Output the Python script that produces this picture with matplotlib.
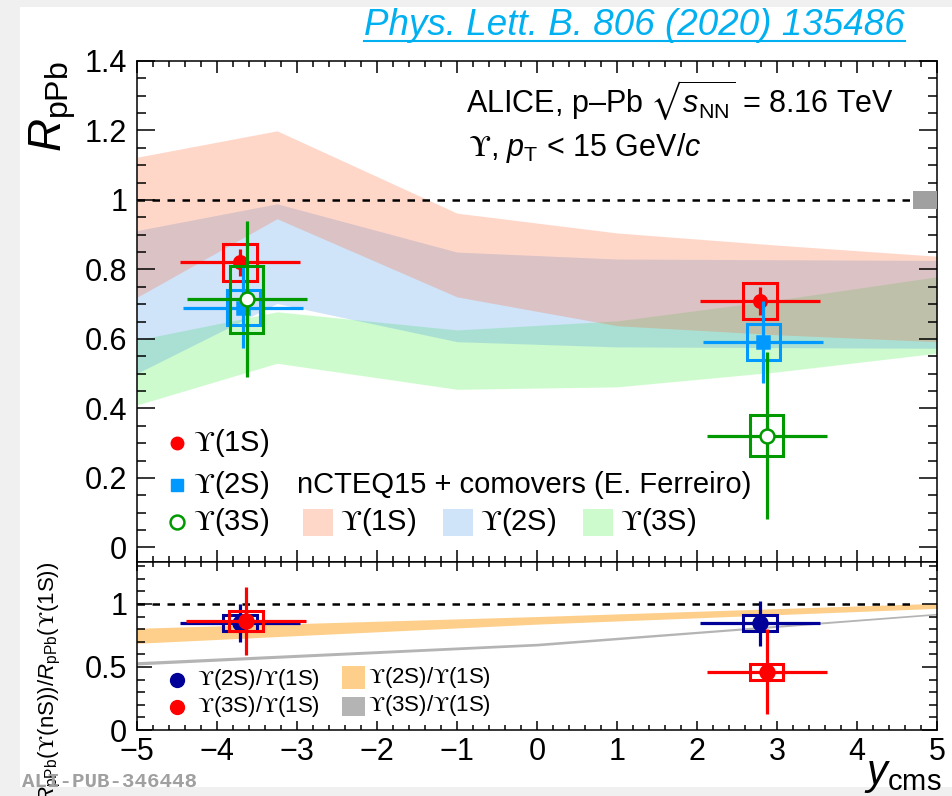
# Upsilon nuclear modification factors in p-Pb at 8.16 TeV, with double ratios

import matplotlib
matplotlib.use("Agg")
from matplotlib import pyplot as plt
from matplotlib.patches import Rectangle
from matplotlib.lines import Line2D
from matplotlib.ticker import MultipleLocator, FuncFormatter

plt.rcParams['font.family'] = ['Liberation Sans', 'DejaVu Sans']
plt.rcParams['mathtext.fontset'] = 'custom'
plt.rcParams['mathtext.rm'] = 'Liberation Sans'
plt.rcParams['mathtext.it'] = 'Liberation Sans:italic'
plt.rcParams['mathtext.bf'] = 'Liberation Sans:bold'
# hooked upsilon symbol is taken from STIX through \mathsf
plt.rcParams['mathtext.sf'] = 'STIXGeneral'
plt.rcParams['mathtext.fallback'] = 'stixsans'

# ---- measured R_pPb (backward, forward) ----
x_1s = [-3.71, 2.79]
r_1s = [0.82, 0.71]
stat_1s = [0.04, 0.04]
syst_1s = [0.054, 0.052]

x_2s = [-3.67, 2.83]
r_2s = [0.69, 0.59]
stat_2s = [0.117, 0.118]
syst_2s = [0.051, 0.052]

x_3s = [-3.63, 2.87]
r_3s = [0.714, 0.322]
stat_3s = [0.225, 0.24]
syst_3s = [0.096, 0.058]

bin_half = 0.75      # half width of the rapidity intervals
box_half = 0.21      # half width of the systematic boxes
global_unc = 0.026   # correlated uncertainty, drawn at unity

# ---- nCTEQ15 + comovers bands ----
x_th = [-5, -3.25, -1, 1, 3, 5]
th1_lo = [0.72, 0.946, 0.721, 0.638, 0.612, 0.592]
th1_hi = [1.123, 1.199, 0.962, 0.905, 0.87, 0.838]
th2_lo = [0.501, 0.702, 0.592, 0.577, 0.575, 0.573]
th2_hi = [0.912, 0.989, 0.850, 0.830, 0.828, 0.826]
th3_lo = [0.41, 0.530, 0.455, 0.462, 0.505, 0.559]
th3_hi = [0.597, 0.678, 0.626, 0.652, 0.712, 0.779]

# ---- double ratios ----
x_21 = [-3.71, 2.79]
d_21 = [0.847, 0.847]
stat_21 = [0.15, 0.18]
syst_21 = [0.062, 0.062]

x_31 = [-3.64, 2.87]
d_31 = [0.868, 0.463]
stat_31 = [0.27, 0.335]
syst_31 = [0.08, 0.064]

x_rat = [-5, 0, 5]
th21_lo = [0.688, 0.84, 0.965]
th21_hi = [0.807, 0.90, 1.005]
th31_lo = [0.516, 0.667, 0.913]
th31_hi = [0.542, 0.688, 0.926]

RED = '#ff0000'
AZURE = '#0099ff'
GREEN = '#009900'
NAVY = '#000099'
C1S = '#ff632b'
C2S = '#4393eb'
C3S = '#3bf33b'
ORANGE = '#fdcf8a'
GREY = '#b4b4b4'
UPS = r'$\mathsf{ϒ}$'


def fmt(v, pos):
    return f"{v:g}".replace('-', '\u2212')


def style_axes(a, ymaj, ymin, ylen, xlen):
    a.set_xlim(-5, 5)
    a.xaxis.set_major_locator(MultipleLocator(1))
    a.xaxis.set_minor_locator(MultipleLocator(0.2))
    a.yaxis.set_major_locator(MultipleLocator(ymaj))
    a.yaxis.set_minor_locator(MultipleLocator(ymin))
    a.xaxis.set_major_formatter(FuncFormatter(fmt))
    a.yaxis.set_major_formatter(FuncFormatter(fmt))
    a.tick_params(which='both', direction='in', top=True, right=True,
                  width=1.1, labelsize=22)
    a.tick_params(axis='y', which='major', length=ylen, pad=7)
    a.tick_params(axis='y', which='minor', length=ylen / 2)
    a.tick_params(axis='x', which='major', length=xlen, pad=5)
    a.tick_params(axis='x', which='minor', length=xlen / 2)
    for s in a.spines.values():
        s.set_linewidth(1.1)


def draw_points(a, x, y, stat, syst, color, marker, ms, mfc, z):
    for xi, yi, si in zip(x, y, syst):
        a.add_patch(Rectangle((xi - box_half, yi - si), 2 * box_half, 2 * si,
                              fill=False, ec=color, lw=2.2, zorder=z))
    a.errorbar(x, y, xerr=bin_half, yerr=stat, fmt=marker, color=color,
               ms=ms, mfc=mfc, mec=color, mew=1.8, elinewidth=2.3,
               capsize=0, zorder=z + 1)


fig = plt.figure(figsize=(9.53, 7.96), dpi=100, facecolor='#f0f0f0')
fig.patches.append(Rectangle((0.021, 0.0113), 0.979, 0.98, transform=fig.transFigure,
                             facecolor='white', edgecolor='none', zorder=-10))

ax = fig.add_axes([0.1438, 0.2940, 0.8395, 0.6294])
ax2 = fig.add_axes([0.1438, 0.0829, 0.8395, 0.2111])

# ---------------- upper panel ----------------
style_axes(ax, 0.2, 0.05, 13, 8.6)
ax.set_ylim(-0.042, 1.4)
ax.tick_params(labelbottom=False)

ax.fill_between(x_th, th3_lo, th3_hi, color=C3S, alpha=0.25, lw=0, zorder=1)
ax.fill_between(x_th, th2_lo, th2_hi, color=C2S, alpha=0.25, lw=0, zorder=1)
ax.fill_between(x_th, th1_lo, th1_hi, color=C1S, alpha=0.25, lw=0, zorder=1)

ax.plot([-5, 4.7], [1, 1], color='black', ls=(0, (3, 3)), lw=1.8, zorder=2)
ax.add_patch(Rectangle((4.7, 1 - global_unc), 0.3, 2 * global_unc,
                       facecolor='#a0a0a0', edgecolor='none', zorder=3))

draw_points(ax, x_1s, r_1s, stat_1s, syst_1s, RED, 'o', 9, RED, 4)
draw_points(ax, x_2s, r_2s, stat_2s, syst_2s, AZURE, 's', 8, AZURE, 6)
draw_points(ax, x_3s, r_3s, stat_3s, syst_3s, GREEN, 'o', 10, 'white', 8)

ax.text(-0.105, 1.0, r'$R_{\mathrm{pPb}}$', transform=ax.transAxes,
        rotation=90, ha='center', va='top', fontsize=33)

ax.text(0.411, 0.922, r'ALICE, p–Pb $\sqrt{s_{\mathrm{NN}}}$ = 8.16 TeV',
        transform=ax.transAxes, fontsize=22, va='center')
ax.text(0.414, 0.826, UPS + r', $p_{\mathrm{T}}$ < 15 GeV/$c$',
        transform=ax.transAxes, fontsize=22, va='center')

# data legend
leg_y = [0.2375, 0.1537, 0.0798]
ax.plot([0.05], [leg_y[0]], 'o', color=RED, ms=9, transform=ax.transAxes)
ax.plot([0.05], [leg_y[1]], 's', color=AZURE, ms=8, transform=ax.transAxes)
ax.plot([0.05], [leg_y[2]], 'o', mec=GREEN, mfc='white', mew=1.8, ms=10,
        transform=ax.transAxes)
for yy, lab in zip(leg_y, ['1S', '2S', '3S']):
    ax.text(0.07, yy, UPS + '(' + lab + ')', transform=ax.transAxes,
            fontsize=21, va='center')

# model legend
ax.text(0.2, leg_y[1], 'nCTEQ15 + comovers (E. Ferreiro)', transform=ax.transAxes,
        fontsize=21, va='center')
for x0, col, lab in zip([0.2075, 0.3825, 0.5575], [C1S, C2S, C3S], ['1S', '2S', '3S']):
    ax.add_patch(Rectangle((x0, 0.052), 0.0375, 0.054, transform=ax.transAxes,
                           facecolor=col, alpha=0.25, edgecolor='none'))
    ax.text(x0 + 0.0465, leg_y[2], UPS + '(' + lab + ')', transform=ax.transAxes,
            fontsize=21, va='center')

# ---------------- lower panel ----------------
style_axes(ax2, 0.5, 0.1, 11, 6.5)
ax2.set_ylim(0, 1.333)

ax2.fill_between(x_rat, th21_lo, th21_hi, color=ORANGE, lw=0, zorder=1)
ax2.fill_between(x_rat, th31_lo, th31_hi, color=GREY, lw=0, zorder=1)
ax2.plot([-5, 4.7], [1, 1], color='black', ls=(0, (3, 3)), lw=1.8, zorder=2)

draw_points(ax2, x_21, d_21, stat_21, syst_21, NAVY, 'o', 10, NAVY, 4)
draw_points(ax2, x_31, d_31, stat_31, syst_31, RED, 'o', 10, RED, 6)

ax2.text(-0.109, 1.0, r'$R_{\mathrm{pPb}}$(' + UPS + r'(nS))/$R_{\mathrm{pPb}}$(' + UPS + '(1S))',
         transform=ax2.transAxes, rotation=90, ha='center', va='top', fontsize=16)
ax2.text(1.006, -0.15, r'$y_{\mathrm{cms}}$', transform=ax2.transAxes,
         ha='right', va='top', fontsize=30)

ax2.plot([0.05], [0.298], 'o', color=NAVY, ms=10, transform=ax2.transAxes)
ax2.plot([0.05], [0.137], 'o', color=RED, ms=10, transform=ax2.transAxes)
ax2.text(0.075, 0.298, UPS + '(2S)/' + UPS + '(1S)', transform=ax2.transAxes,
         fontsize=16, va='center')
ax2.text(0.075, 0.137, UPS + '(3S)/' + UPS + '(1S)', transform=ax2.transAxes,
         fontsize=16, va='center')
ax2.add_patch(Rectangle((0.256, 0.244), 0.029, 0.137, transform=ax2.transAxes,
                        facecolor=ORANGE, edgecolor='none'))
ax2.add_patch(Rectangle((0.256, 0.083), 0.029, 0.113, transform=ax2.transAxes,
                        facecolor=GREY, edgecolor='none'))
ax2.text(0.289, 0.31, UPS + '(2S)/' + UPS + '(1S)', transform=ax2.transAxes,
         fontsize=16, va='center')
ax2.text(0.289, 0.143, UPS + '(3S)/' + UPS + '(1S)', transform=ax2.transAxes,
         fontsize=16, va='center')

# ---------------- page decorations ----------------
ref = fig.text(0.9497, 0.956, 'Phys. Lett. B. 806 (2020) 135486', color='#00b0f0',
               fontsize=26.5, style='italic', ha='right', va='baseline')
fig.text(0.023, 0.0183, 'ALI-PUB-346448', family='Liberation Mono', weight='bold',
         fontsize=15, color='#a0a0a0', va='center')

fig.canvas.draw()
bb = ref.get_window_extent().transformed(fig.transFigure.inverted())
fig.lines.append(Line2D([bb.x0, bb.x1], [0.9485, 0.9485], transform=fig.transFigure,
                        color='#00b0f0', lw=1.5))

fig.savefig('out.png', dpi=100, facecolor=fig.get_facecolor())
